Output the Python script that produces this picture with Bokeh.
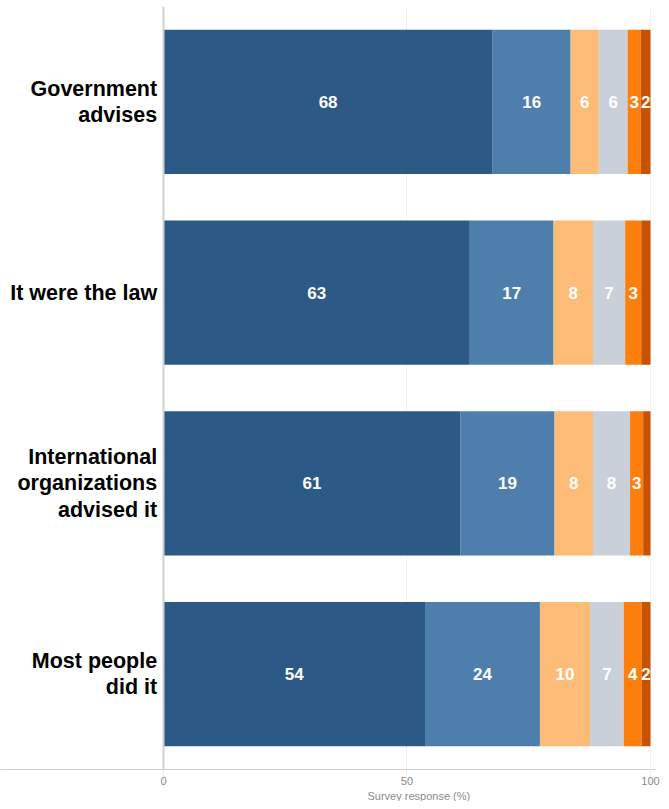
from bokeh.plotting import figure
from bokeh.models import ColumnDataSource, Range1d, FactorRange, Span, FixedTicker, Title
from bokeh.core.properties import value
from bokeh.embed import file_html
from bokeh.resources import INLINE

categories = ["Government\nadvises", "It were the law",
              "International\norganizations\nadvised it", "Most people\ndid it"]
series_names = ["s1", "s2", "s3", "s4", "s5", "s6"]
s1 = [67.6, 62.9, 61.0, 53.7]
s2 = [16.0, 17.2, 19.3, 23.6]
s3 = [5.8, 8.1, 7.9, 10.3]
s4 = [5.9, 6.6, 7.6, 6.9]
s5 = [2.7, 3.3, 2.7, 3.7]
s6 = [2.0, 1.9, 1.5, 1.8]
hidden_labels = [(1, 5), (2, 5)]  # (row, segment) with no value label
colors = ["#2d5986", "#4e7fac", "#fdbb78", "#c9d0da", "#fd7f0e", "#c85200"]
x_ticks = [0, 50, 100]
x_title = "Survey response (%)"

series = [s1, s2, s3, s4, s5, s6]

p = figure(width=661, height=801, output_backend="svg", toolbar_location=None,
           y_range=FactorRange(factors=list(reversed(categories)), range_padding=0),
           x_range=Range1d(-33.47, 101.03),
           min_border_left=0, min_border_right=6, min_border_top=6, min_border_bottom=0)
p.outline_line_color = None
p.background_fill_color = "white"

data = {"cat": categories}
for n, s in zip(series_names, series):
    data[n] = s
src = ColumnDataSource(data)
p.hbar_stack(series_names, y="cat", height=0.755, color=colors, source=src, line_color=None)

# value labels
lx, ly, lt = [], [], []
for i, cat in enumerate(categories):
    left = 0.0
    for j, s in enumerate(series):
        v = s[i]
        if (i, j) not in hidden_labels:
            lx.append(left + v / 2)
            ly.append(cat)
            lt.append(str(round(v)))
        left += v
p.text(x=lx, y=ly, text=lt, text_align="center", text_baseline="middle",
       text_color="white", text_font=value("Liberation Sans"), text_font_style="bold",
       text_font_size="17px")

# category labels
p.text(x=[-1.3] * len(categories), y=categories, text=categories, text_align="right",
       text_baseline="middle", text_color="black", text_font=value("Liberation Sans"),
       text_font_style="bold", text_font_size="21.5px", text_line_height=1.1)

p.add_layout(Span(location=0, dimension="height", line_color="#d0d0d0", line_width=2))

p.yaxis.visible = False
p.ygrid.visible = False
p.xgrid.ticker = FixedTicker(ticks=x_ticks)
p.xgrid.grid_line_color = "#f0f0f0"
xa = p.xaxis[0]
xa.ticker = FixedTicker(ticks=x_ticks)
xa.axis_line_color = "#d0d0d0"
xa.major_tick_out = 19
xa.major_tick_in = 0
xa.major_tick_line_color = "#ececec"
xa.minor_tick_line_color = None
xa.major_label_standoff = -12
xa.major_label_text_font = "Liberation Sans"
xa.major_label_text_font_size = "11px"
xa.major_label_text_color = "#8a8a8a"

t = Title(text=x_title, align="left", offset=367, text_font="Liberation Sans",
          text_font_size="11px", text_color="#8a8a8a", text_font_style="normal",
          standoff=0)
p.add_layout(t, "below")

open("out.html", "w").write(file_html(p, INLINE))
